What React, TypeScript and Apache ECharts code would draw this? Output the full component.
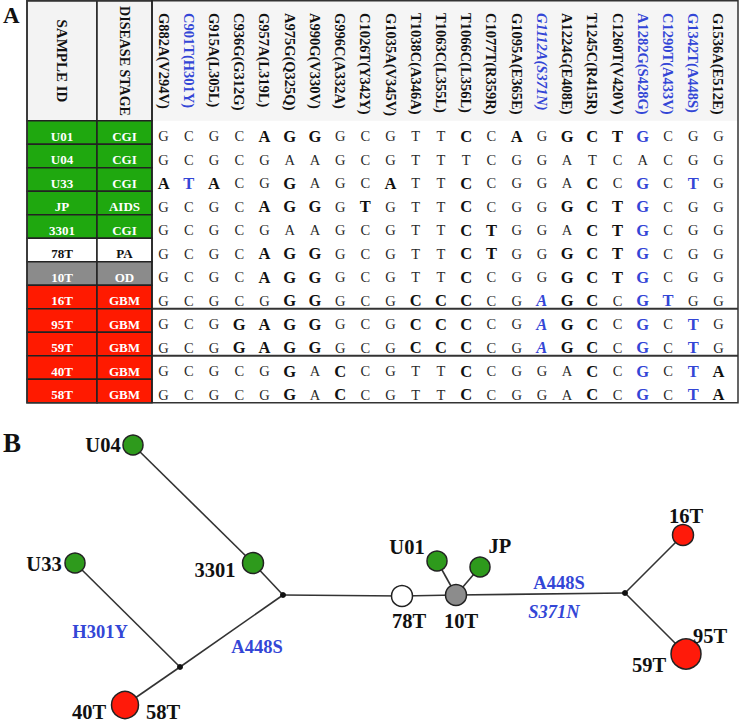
import React, { useEffect, useRef } from "react";
import * as echarts from "echarts";

// ---------- Panel A data ----------
const columns = [
  "G882A(V294V)", "C901T(H301Y)", "G915A(L305L)", "C936G(G312G)", "G957A(L319L)",
  "A975G(Q325Q)", "A990G(V330V)", "G996C(A332A)", "C1026T(Y342Y)", "G1035A(V345V)",
  "T1038C(A346A)", "T1063C(L355L)", "T1066C(L356L)", "C1077T(R359R)", "G1095A(E365E)",
  "G1112A(S371N)", "A1224G(E408E)", "T1245C(R415R)", "C1260T(V420V)", "A1282G(S428G)",
  "C1290T(A433V)", "G1342T(A448S)", "G1536A(E512E)",
];
const blueColumns = [1, 15, 19, 20, 21];
const italicColumns = [15];

const samples = ["U01", "U04", "U33", "JP", "3301", "78T", "10T", "16T", "95T", "59T", "40T", "58T"];
const stages = ["CGI", "CGI", "CGI", "AIDS", "CGI", "PA", "OD", "GBM", "GBM", "GBM", "GBM", "GBM"];
const sequences = [
  "GCGCAGGGCGTTCCAGGCTGCGG",
  "GCGCGAAGCGTTTCGGATCACGG",
  "ATACGGAGCATTCCGGACCGCTG",
  "GCGCAGGGTGTTCCGGGCTGCGG",
  "GCGCGAAGCGTTCTGGACTGCGG",
  "GCGCAGGGCGTTCTGGGCTGCGG",
  "GCGCAGGGCGTTCCGGGCTGCGG",
  "GCGCGGGGCGCCCCGAGCCGTGG",
  "GCGGAGGGCGCCCCGAGCCGCTG",
  "GCGGAGGGCGCCCCGAGCCGCTG",
  "GCGCGGACCGTTCCGGACCGCTA",
  "GCGCGGACCGTTCCGGACCGCTA",
];
const groupBreaksAfter = ["16T", "59T"];

// ---------- Panel B data ----------
const nodeNames = ["U04", "3301", "U33", "J1", "J2", "40T/58T", "78T", "10T", "U01", "JP", "J3", "16T", "95T/59T"];
const nodeX = [133, 253, 75, 283, 180, 125, 402, 456, 437, 480, 625, 683, 686];
const nodeY = [445, 563, 563, 595, 667, 705, 596, 595, 561, 567, 593, 535, 654];
const nodeSizes = [20, 21, 20, 6, 6, 27, 21, 21, 20, 20, 6, 21, 30];
const nodeGroups = ["CGI", "CGI", "CGI", "junction", "junction", "GBM", "PA", "OD", "CGI", "AIDS", "junction", "GBM", "GBM"];
const edges: [string, string][] = [
  ["U04", "3301"], ["3301", "J1"], ["J1", "J2"], ["J2", "U33"], ["J2", "40T/58T"],
  ["J1", "78T"], ["78T", "10T"], ["10T", "U01"], ["10T", "JP"], ["10T", "J3"],
  ["J3", "16T"], ["J3", "95T/59T"],
];
const nodeLabelNames = ["U04", "U33", "3301", "40T", "58T", "U01", "JP", "78T", "10T", "16T", "95T", "59T"];
const nodeLabelX = [103, 44, 215, 89, 163, 407, 500, 409, 461, 686, 710, 649];
const nodeLabelY = [445, 564, 570, 712, 712, 547, 546, 621, 621, 516, 636, 665];
const mutationNames = ["H301Y", "A448S", "A448S", "S371N"];
const mutationX = [100, 257, 559, 554];
const mutationY = [632, 647, 583, 612];
const mutationItalic = [false, false, false, true];

// ---------- styles / layout ----------
const SERIF = "'Liberation Serif', 'DejaVu Serif', serif";
const BLUE = "#3346d6";
const INK = "#111111";
const tableColors: Record<string, string> = { CGI: "#1fa80f", AIDS: "#1fa80f", PA: "#ffffff", OD: "#8b8b8b", GBM: "#ff1a00" };
const nodeColors: Record<string, string> = { CGI: "#2e9a1c", AIDS: "#2e9a1c", PA: "#ffffff", OD: "#8c8c8c", GBM: "#ff1a0a", junction: "#111111" };

const T_LEFT = 27, ID_RIGHT = 97, ST_RIGHT = 152, T_RIGHT = 738;
const HEAD_BOTTOM = 120.7, T_BOTTOM = 402.7;
const DATA_LEFT = 151, DATA_WIDTH = 580;

const derivedBase = columns.map((c) => {
  const m = c.match(/^([ACGT])\d+([ACGT])/);
  return m ? m[2] : "";
});

export default function App() {
  const ref = useRef<HTMLDivElement>(null);
  useEffect(() => {
    if (!ref.current) return;
    const chart = echarts.init(ref.current, undefined, { renderer: "svg" });

    const letterCells: number[][] = [];
    sequences.forEach((s, r) => {
      for (let c = 0; c < s.length; c++) letterCells.push([c, r]);
    });

    const tableH = T_BOTTOM - HEAD_BOTTOM;

    const cellSeries = (gridIdx: number, texts: string[]) => ({
      type: "custom",
      xAxisIndex: gridIdx,
      yAxisIndex: gridIdx,
      data: samples.map((_, r) => [0, r]),
      renderItem: (params: any, api: any) => {
        const r = api.value(1);
        const p = api.coord([0, r]);
        const s = api.size([1, 1]);
        const fill = tableColors[stages[r]];
        const dark = stages[r] !== "PA";
        return {
          type: "group",
          children: [
            {
              type: "rect",
              shape: { x: p[0] - s[0] / 2, y: p[1] - s[1] / 2, width: s[0], height: s[1] },
              style: { fill, stroke: "#222", lineWidth: 1.5 },
            },
            {
              type: "text",
              x: p[0],
              y: p[1] + 4,
              style: {
                text: texts[r],
                align: "center",
                verticalAlign: "middle",
                fill: dark ? "#ffffff" : INK,
                fontFamily: SERIF,
                fontWeight: "bold",
                fontSize: 13,
              },
            },
          ],
        };
      },
    });

    const textScatter = (extra: any) => ({
      type: "scatter",
      xAxisIndex: 4,
      yAxisIndex: 4,
      symbolSize: 1,
      silent: true,
      z: 4,
      itemStyle: { color: "rgba(0,0,0,0)", opacity: 1 },
      emphasis: { disabled: true },
      ...extra,
    });

    const option: any = {
      animation: false,
      backgroundColor: "#ffffff",
      grid: [
        { left: DATA_LEFT, top: HEAD_BOTTOM, width: DATA_WIDTH, height: tableH },
        { left: DATA_LEFT, top: 0, width: DATA_WIDTH, height: 10 },
        { left: T_LEFT, top: HEAD_BOTTOM, width: ID_RIGHT - T_LEFT, height: tableH },
        { left: ID_RIGHT, top: HEAD_BOTTOM, width: ST_RIGHT - ID_RIGHT, height: tableH },
        { left: 0, top: 0, width: 742, height: 724 },
      ],
      xAxis: [
        { gridIndex: 0, type: "category", data: columns, show: false },
        {
          gridIndex: 1,
          type: "category",
          data: columns,
          position: "bottom",
          axisLine: { show: false },
          axisTick: { show: false },
          axisLabel: {
            interval: 0,
            rotate: -90,
            margin: 3,
            formatter: (v: string, i: number) =>
              blueColumns.includes(i)
                ? italicColumns.includes(i) ? `{bi|${v}}` : `{b|${v}}`
                : `{k|${v}}`,
            rich: {
              k: { color: INK, fontFamily: SERIF, fontWeight: "bold", fontSize: 14.5 },
              b: { color: BLUE, fontFamily: SERIF, fontWeight: "bold", fontSize: 14.5 },
              bi: { color: BLUE, fontFamily: SERIF, fontWeight: "bold", fontStyle: "italic", fontSize: 14.5 },
            },
          },
        },
        { gridIndex: 2, type: "category", data: ["id"], show: false },
        { gridIndex: 3, type: "category", data: ["stage"], show: false },
        { gridIndex: 4, type: "value", min: 0, max: 742, show: false },
      ],
      yAxis: [
        { gridIndex: 0, type: "category", data: samples, inverse: true, show: false },
        { gridIndex: 1, type: "value", min: 0, max: 1, show: false },
        { gridIndex: 2, type: "category", data: samples, inverse: true, show: false },
        { gridIndex: 3, type: "category", data: samples, inverse: true, show: false },
        { gridIndex: 4, type: "value", min: 0, max: 724, inverse: true, show: false },
      ],
      graphic: [
        { type: "rect", z: -5, shape: { x: ST_RIGHT, y: 0, width: T_RIGHT - ST_RIGHT, height: HEAD_BOTTOM }, style: { fill: "#f5f5f5" } },
        { type: "rect", z: 1, shape: { x: T_LEFT, y: 0.75, width: ID_RIGHT - T_LEFT, height: HEAD_BOTTOM - 0.75 }, style: { fill: "#f3f3f3", stroke: "#222", lineWidth: 1.5 } },
        { type: "rect", z: 1, shape: { x: ID_RIGHT, y: 0.75, width: ST_RIGHT - ID_RIGHT, height: HEAD_BOTTOM - 0.75 }, style: { fill: "#f3f3f3", stroke: "#222", lineWidth: 1.5 } },
        {
          type: "text", z: 2, x: (T_LEFT + ID_RIGHT) / 2, y: 61, rotation: -Math.PI / 2,
          style: { text: "SAMPLE ID", align: "center", verticalAlign: "middle", fill: INK, fontFamily: SERIF, fontWeight: "bold", fontSize: 15 },
        },
        {
          type: "text", z: 2, x: (ID_RIGHT + ST_RIGHT) / 2, y: 61, rotation: -Math.PI / 2,
          style: { text: "DISEASE STAGE", align: "center", verticalAlign: "middle", fill: INK, fontFamily: SERIF, fontWeight: "bold", fontSize: 14 },
        },
        {
          type: "rect", z: 50, shape: { x: T_LEFT, y: 0.75, width: T_RIGHT - T_LEFT, height: T_BOTTOM - 0.75 },
          style: { fill: "none", stroke: "#333", lineWidth: 1.5 },
        },
        { type: "line", z: 50, shape: { x1: ST_RIGHT, y1: 0, x2: ST_RIGHT, y2: T_BOTTOM }, style: { stroke: "#222", lineWidth: 1.5 } },
        { type: "text", z: 60, x: 3, y: 4, style: { text: "A", fill: INK, fontFamily: SERIF, fontWeight: "bold", fontSize: 23 } },
        { type: "text", z: 60, x: 3, y: 429, style: { text: "B", fill: INK, fontFamily: SERIF, fontWeight: "bold", fontSize: 27 } },
      ],
      series: [
        {
          type: "custom",
          xAxisIndex: 0,
          yAxisIndex: 0,
          data: letterCells,
          renderItem: (params: any, api: any) => {
            const c = api.value(0);
            const r = api.value(1);
            const p = api.coord([c, r]);
            const letter = sequences[r][c];
            const isDerived = letter === derivedBase[c];
            const blue = isDerived && blueColumns.includes(c);
            const italic = blue && italicColumns.includes(c);
            return {
              type: "text",
              x: p[0],
              y: p[1] + 4,
              style: {
                text: letter,
                align: "center",
                verticalAlign: "middle",
                fill: blue ? BLUE : isDerived ? INK : "#2a2a2a",
                fontFamily: SERIF,
                fontSize: isDerived ? 16.5 : 14.5,
                fontWeight: isDerived ? "bold" : "normal",
                fontStyle: italic ? "italic" : "normal",
              },
            };
          },
        },
        {
          type: "custom",
          xAxisIndex: 0,
          yAxisIndex: 0,
          z: 5,
          data: groupBreaksAfter.map((s) => [0, samples.indexOf(s)]),
          renderItem: (params: any, api: any) => {
            const p = api.coord([0, api.value(1)]);
            const h = api.size([0, 1])[1];
            const y = p[1] + h / 2;
            return {
              type: "line",
              shape: { x1: ST_RIGHT, y1: y, x2: T_RIGHT, y2: y },
              style: { stroke: "#333", lineWidth: 2 },
            };
          },
        },
        cellSeries(2, samples),
        cellSeries(3, stages),
        {
          type: "graph",
          coordinateSystem: "cartesian2d",
          xAxisIndex: 4,
          yAxisIndex: 4,
          layout: "none",
          z: 3,
          data: nodeNames.map((n, i) => ({
            name: n,
            value: [nodeX[i], nodeY[i]],
            symbol: "circle",
            symbolSize: nodeSizes[i],
            itemStyle: {
              color: nodeColors[nodeGroups[i]],
              borderColor: "#222",
              borderWidth: nodeGroups[i] === "junction" ? 0 : 1.5,
            },
          })),
          links: edges.map(([s, t]) => ({ source: s, target: t })),
          lineStyle: { color: "#333", width: 1.6, opacity: 1, curveness: 0 },
          label: { show: false },
          emphasis: { disabled: true },
        },
        textScatter({
          data: nodeLabelNames.map((n, i) => ({ name: n, value: [nodeLabelX[i], nodeLabelY[i]] })),
          label: {
            show: true,
            position: "inside",
            formatter: "{b}",
            color: INK,
            opacity: 1,
            fontFamily: SERIF,
            fontWeight: "bold",
            fontSize: 20.5,
          },
        }),
        textScatter({
          data: mutationNames.map((n, i) => ({
            name: n,
            value: [mutationX[i], mutationY[i]],
            label: { fontStyle: mutationItalic[i] ? "italic" : "normal" },
          })),
          label: {
            show: true,
            position: "inside",
            formatter: "{b}",
            color: BLUE,
            opacity: 1,
            fontFamily: SERIF,
            fontWeight: "bold",
            fontSize: 18.5,
          },
        }),
      ],
    };
    chart.setOption(option);
    return () => chart.dispose();
  }, []);

  return (
    <div
      ref={ref}
      style={{ position: "absolute", left: 0, top: 0, width: 742, height: 724, background: "#fff" }}
    />
  );
}
